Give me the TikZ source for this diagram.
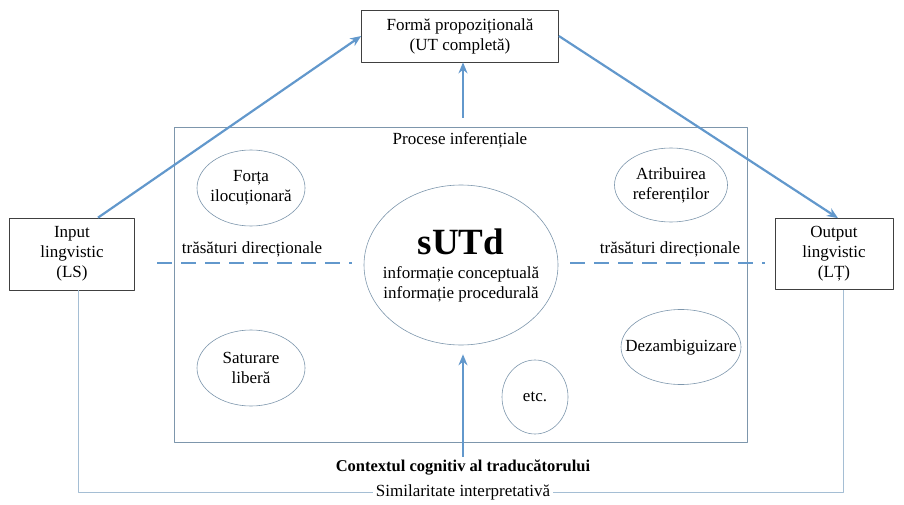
\documentclass[tikz,border=0pt]{standalone}
\usepackage{fontspec}
\setmainfont{Liberation Serif}
\usetikzlibrary{shapes.geometric,arrows.meta}
\definecolor{arrowblue}{RGB}{98,152,204}
\definecolor{framegray}{RGB}{125,150,172}
\definecolor{linegray}{RGB}{165,190,212}
\tikzset{
  box/.style={draw=black!75, line width=0.7pt, align=center, inner sep=0pt},
  bubble/.style={ellipse, draw=framegray, line width=0.6pt, inner sep=0pt},
  bubbletext/.style={label={[align=center]center:#1}},
  bluearrow/.style={-{Stealth[length=11pt,width=9pt]}, draw=arrowblue, line width=2.2pt},
  dirline/.style={draw=arrowblue, line width=2.2pt, dash pattern=on 15pt off 9pt},
}
\begin{document}
\begin{tikzpicture}[x=1pt, y=-1pt, line join=round, font=\fontsize{17}{20}\selectfont]
  \useasboundingbox (0,0) rectangle (904,505);
  % boxes
  \node[box, minimum width=197, minimum height=52] (forma) at (460,36) {Formă propozițională\\(UT completă)};
  \node[box, minimum width=125, minimum height=72] (in) at (72,254) {Input\\lingvistic\\(LS)};
  \node[box, minimum width=118, minimum height=71] (out) at (834,254) {Output\\lingvistic\\(LȚ)};
  \node[draw=framegray, line width=0.7pt, minimum width=573, minimum height=315, inner sep=0pt] (proc) at (460.5,284.5) {};
  \node (titlu) at (460,140) {Procese inferențiale};
  % processes
  \node[bubble, minimum width=108, minimum height=76, bubbletext={Forța\\ilocuționară}] (forta) at (251,188) {};
  \node[bubble, minimum width=113, minimum height=74, bubbletext={Atribuirea\\referenților}] (atrib) at (671,185) {};
  \node[bubble, minimum width=108, minimum height=76, bubbletext={Saturare\\liberă}] (satur) at (251,368) {};
  \node[bubble, minimum width=66, minimum height=74, bubbletext={etc.}] (etc) at (535,397) {};
  \node[bubble, minimum width=120, minimum height=75, bubbletext={Dezambiguizare}] (dezamb) at (681,347) {};
  \node[bubble, minimum width=194, minimum height=160,
        bubbletext={{\fontsize{37}{40}\selectfont\bfseries sUTd}\\[4pt]informație conceptuală\\informație procedurală}] (sutd) at (461,265) {};
  % directional features
  \coordinate (dl1) at (157,263);
  \coordinate (dl2) at (352,263);
  \coordinate (dr1) at (570,263);
  \coordinate (dr2) at (765,263);
  \draw[dirline] (dl1) -- (dl2);
  \draw[dirline] (dr1) -- (dr2);
  \node (trl) at (252,249) {trăsături direcționale};
  \node (trr) at (670,249) {trăsături direcționale};
  % context
  \node[font=\fontsize{16.5}{20}\selectfont\bfseries] (ctx) at (463,468) {Contextul cognitiv al traducătorului};
  \node[fill=white, inner sep=3pt] (sim) at (463,492) {Similaritate interpretativă};
  % arrows
  \draw[bluearrow] ([xshift=26]in.north) -- (forma.west);
  \draw[bluearrow] (forma.east) -- ([xshift=4]out.north);
  \draw[bluearrow, shorten <=9pt] (proc.north -| 463,0) -- (forma.south -| 463,0);
  \draw[bluearrow, shorten >=9pt] (ctx.north -| 463,0) -- (sutd.south -| 463,0);
  \draw[linegray, line width=0.8pt] ([xshift=6]in.south) |- (sim.west);
  \draw[linegray, line width=0.8pt] (sim.east) -| ([xshift=9]out.south);
\end{tikzpicture}
\end{document}
